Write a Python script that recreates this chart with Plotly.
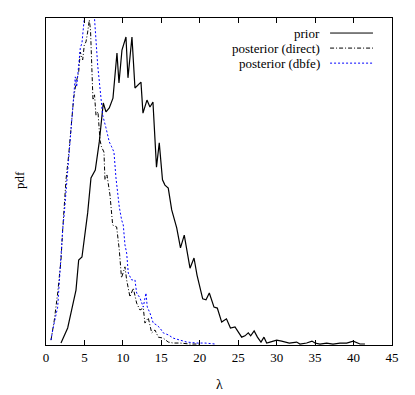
import plotly.graph_objects as go

# prior (solid black)
prior_x = [1.95, 2.82, 3.25, 3.90, 4.25, 4.68, 5.42, 5.85, 6.41, 6.93, 7.45, 7.80, 8.23, 8.71,
           9.23, 9.49, 9.88, 10.40, 10.66, 11.18, 11.57, 12.35, 12.61, 13.13, 13.52, 13.91,
           14.37, 14.73, 15.15, 15.47, 15.90, 16.35, 17.00, 17.49, 17.98, 18.73, 19.25, 19.64,
           20.38, 20.81, 21.24, 21.85, 22.28, 22.85, 23.47, 23.99, 24.58, 25.45, 25.88, 26.31,
           26.62, 27.07, 27.50, 27.96, 28.35, 28.70, 29.13, 30.00, 30.65, 31.30, 31.64, 32.60,
           33.03, 33.90, 34.59, 34.98, 35.63, 36.50, 37.32, 38.23, 39.10, 39.96, 40.83, 41.48]
prior_y = [0.0006, 0.0052, 0.0098, 0.0168, 0.0260, 0.0269, 0.0404, 0.0511, 0.0535, 0.0621,
           0.0740, 0.0713, 0.0725, 0.0755, 0.0893, 0.0801, 0.0902, 0.0942, 0.0817, 0.0942,
           0.0786, 0.0804, 0.0709, 0.0749, 0.0728, 0.0743, 0.0544, 0.0618, 0.0505, 0.0489,
           0.0480, 0.0413, 0.0358, 0.0297, 0.0336, 0.0235, 0.0266, 0.0214, 0.0141, 0.0138,
           0.0159, 0.0116, 0.0113, 0.0070, 0.0080, 0.0052, 0.0055, 0.0024, 0.0028, 0.0037,
           0.0028, 0.0043, 0.0024, 0.0009, 0.0024, 0.0006, 0.0009, 0.0015, 0.0012, 0.0009,
           0.0006, 0.0009, 0.0003, 0.0006, 0.0012, 0.0006, 0.0003, 0.0006, 0.0003, 0.0006,
           0.0006, 0.0012, 0.0003, 0.0003]

# posterior (direct), dash-dot black
direct_x = [0.65, 1.08, 1.52, 1.95, 2.17, 2.38, 2.60, 2.95, 3.25, 3.60, 3.90, 4.25, 4.46, 4.77,
            4.98, 5.20, 5.42, 5.63, 5.79, 5.94, 6.11, 6.31, 6.50, 6.76, 7.02, 7.22, 7.54, 7.67,
            7.93, 8.32, 8.67, 9.19, 9.53, 9.82, 10.27, 10.49, 10.92, 11.35, 11.79, 12.22, 12.65,
            12.87, 13.30, 13.75, 14.17, 14.60, 15.25, 15.90, 16.55, 17.43, 18.73, 20.03]
direct_y = [0.0015, 0.0076, 0.0159, 0.0260, 0.0352, 0.0428, 0.0505, 0.0581, 0.0664, 0.0755,
            0.0801, 0.0835, 0.0896, 0.0872, 0.0917, 0.0927, 0.0957, 0.0994, 0.0963, 0.0865,
            0.0749, 0.0765, 0.0703, 0.0713, 0.0627, 0.0606, 0.0590, 0.0505, 0.0520, 0.0459,
            0.0367, 0.0361, 0.0291, 0.0205, 0.0239, 0.0199, 0.0147, 0.0174, 0.0128, 0.0107,
            0.0113, 0.0067, 0.0083, 0.0037, 0.0046, 0.0024, 0.0021, 0.0009, 0.0006, 0.0006,
            0.0003, 0.0003]

# posterior (dbfe), blue dotted
dbfe_x = [0.65, 0.87, 1.52, 1.73, 1.95, 2.17, 2.38, 2.51, 2.69, 2.82, 3.12, 3.38, 3.60, 3.81,
          3.99, 4.20, 4.46, 4.68, 4.85, 5.14, 5.53, 5.92, 6.28, 6.50, 6.72, 7.02, 7.37, 7.80,
          8.23, 8.54, 8.84, 9.10, 9.30, 9.53, 9.84, 10.05, 10.27, 10.49, 10.70, 11.14, 11.57,
          11.79, 12.22, 12.65, 13.00, 13.17, 13.52, 13.95, 14.40, 14.82, 15.25, 15.90, 16.55,
          17.43, 18.30, 19.60, 20.68, 21.98]
dbfe_y = [0.0015, 0.0046, 0.0116, 0.0199, 0.0260, 0.0352, 0.0404, 0.0443, 0.0505, 0.0529,
          0.0621, 0.0703, 0.0780, 0.0820, 0.0789, 0.0856, 0.0908, 0.0924, 0.0979, 0.1040,
          0.1086, 0.1080, 0.1009, 0.0927, 0.0856, 0.0786, 0.0703, 0.0664, 0.0621, 0.0606,
          0.0590, 0.0511, 0.0459, 0.0422, 0.0382, 0.0367, 0.0306, 0.0281, 0.0220, 0.0199,
          0.0199, 0.0159, 0.0144, 0.0116, 0.0159, 0.0116, 0.0098, 0.0067, 0.0061, 0.0052,
          0.0037, 0.0031, 0.0021, 0.0015, 0.0009, 0.0006, 0.0006, 0.0003]

x_ticks = [0, 5, 10, 15, 20, 25, 30, 35, 40, 45]

font_name = 'Liberation Serif'
dashdot = '4px,2px,1px,2px'
dotted = '2px,2px'

fig = go.Figure()
fig.add_trace(go.Scatter(x=prior_x, y=prior_y, mode='lines', name='prior',
                         line=dict(color='black', width=1.2)))
fig.add_trace(go.Scatter(x=direct_x, y=direct_y, mode='lines', name='posterior (direct)',
                         line=dict(color='black', width=1, dash=dashdot)))
fig.add_trace(go.Scatter(x=dbfe_x, y=dbfe_y, mode='lines', name='posterior (dbfe)',
                         line=dict(color='#0000ff', width=1, dash=dotted)))

# gnuplot style key: text right aligned, sample on the right
key_rows = [('prior', 'black', 'solid', 0.954),
            ('posterior (direct)', 'black', dashdot, 0.908),
            ('posterior (dbfe)', '#0000ff', dotted, 0.862)]
annotations = []
shapes = []
for txt, col, dsh, yy in key_rows:
    annotations.append(dict(text=txt, x=0.798, y=yy, xref='paper', yref='paper',
                            xanchor='right', yanchor='middle', showarrow=False,
                            font=dict(family=font_name, size=13, color='#000000')))
    shapes.append(dict(type='line', xref='paper', yref='paper', x0=0.821, x1=0.945,
                       y0=yy, y1=yy, line=dict(color=col, width=1, dash=dsh)))

annotations.append(dict(text='λ', x=0.5, y=-0.122, xref='paper', yref='paper',
                        xanchor='center', yanchor='middle', showarrow=False,
                        font=dict(family=font_name, size=14, color='#000000')))
annotations.append(dict(text='pdf', x=-0.075, y=0.505, xref='paper', yref='paper',
                        xanchor='center', yanchor='middle', showarrow=False, textangle=-90,
                        font=dict(family=font_name, size=13, color='#000000')))

# page body has an 8px margin, so the figure is 8px smaller than the window
fig.update_layout(
    width=407, height=387,
    margin=dict(l=38, r=23, t=10, b=50),
    paper_bgcolor='white', plot_bgcolor='white',
    showlegend=False,
    annotations=annotations, shapes=shapes,
    font=dict(family=font_name, size=13, color='#000000'),
)
fig.update_xaxes(range=[0, 45], tickvals=x_ticks, ticks='inside', ticklen=5, tickcolor='#000000',
                 showline=True, linecolor='#000000', linewidth=1, mirror='ticks',
                 showgrid=False, zeroline=False,
                 tickfont=dict(family=font_name, size=13, color='#000000'))
fig.update_yaxes(range=[0, 0.1], showticklabels=False, ticks='', showline=True,
                 linecolor='#000000', linewidth=1, mirror=True, showgrid=False, zeroline=False)

fig.write_html("out.html")
